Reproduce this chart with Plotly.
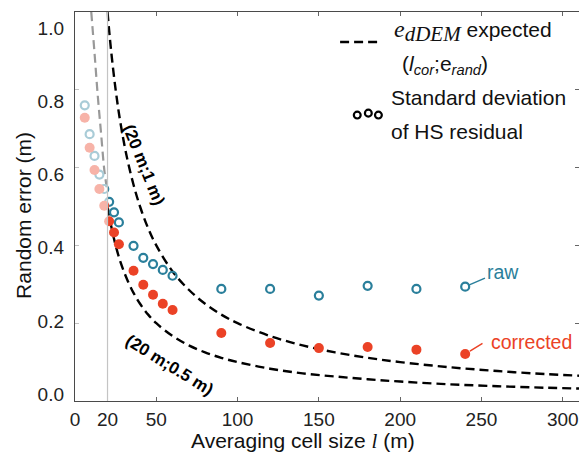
import plotly.graph_objects as go

# Averaging cell size l (m) and standard deviation of the HS residual (m)
cell_size = [6, 9, 12, 15, 18, 21, 24, 27, 36, 42, 48, 54, 60, 90, 120, 150, 180, 210, 240]
raw_sd = [0.760, 0.686, 0.630, 0.582, 0.545, 0.512, 0.485, 0.459, 0.399, 0.368, 0.352,
          0.337, 0.322, 0.288, 0.288, 0.271, 0.296, 0.288, 0.294]
corrected_sd = [0.728, 0.651, 0.594, 0.545, 0.502, 0.462, 0.433, 0.403, 0.335, 0.299, 0.273,
                0.250, 0.234, 0.175, 0.149, 0.136, 0.139, 0.132, 0.121]

# Expected e_dDEM curves for (l_cor; e_rand) = (20 m; 1 m) and (20 m; 0.5 m)
curve_l = [20, 22, 25, 28, 32, 36, 40, 45, 50, 60, 70, 80, 90, 100, 120, 140, 160,
           180, 200, 230, 260, 290, 310]
expected_1m = [1.0, 0.909, 0.80, 0.714, 0.625, 0.556, 0.50, 0.444, 0.40, 0.333, 0.286,
               0.25, 0.222, 0.20, 0.167, 0.143, 0.125, 0.111, 0.10, 0.087, 0.077, 0.069, 0.065]
expected_05m = [0.50, 0.455, 0.40, 0.357, 0.313, 0.278, 0.25, 0.222, 0.20, 0.167, 0.143,
                0.125, 0.111, 0.10, 0.083, 0.071, 0.063, 0.056, 0.05, 0.043, 0.038, 0.034, 0.032]
# Expected curve below the correlation length
short_l = [10, 12, 14, 16, 18, 19.5]
short_expected = [1.0, 0.895, 0.785, 0.69, 0.595, 0.55]

l_cor = 20
x_ticks = [0, 20, 50, 100, 150, 200, 250, 300]
y_ticks = [0.0, 0.2, 0.4, 0.6, 0.8, 1.0]
y_tick_text = ["0.0", "0.2", "0.4", "0.6", "0.8", "1.0"]

TEAL = "#2a7f9b"
RED = "#eb4226"
FONT = "Arial, Liberation Sans, sans-serif"
SERIF = "Liberation Serif, serif"
DASH = "9px,5px"

fig = go.Figure()

fig.add_trace(go.Scatter(x=short_l, y=short_expected, mode="lines", line_shape="spline",
                         line=dict(color="black", width=2.2, dash=DASH), hoverinfo="skip"))
fig.add_trace(go.Scatter(x=curve_l, y=expected_1m, mode="lines", line_shape="spline",
                         line=dict(color="black", width=2.4, dash=DASH), hoverinfo="skip"))
fig.add_trace(go.Scatter(x=curve_l, y=expected_05m, mode="lines", line_shape="spline",
                         line=dict(color="black", width=2.4, dash=DASH), hoverinfo="skip"))
fig.add_trace(go.Scatter(x=cell_size, y=raw_sd, mode="markers", name="raw",
                         marker=dict(symbol="circle-open", size=8, color=TEAL,
                                     line=dict(width=2.2))))
fig.add_trace(go.Scatter(x=cell_size, y=corrected_sd, mode="markers", name="corrected",
                         marker=dict(symbol="circle", size=10, color=RED)))
# carrier for the label axis
fig.add_trace(go.Scatter(x=[], y=[], yaxis="y2", showlegend=False, hoverinfo="skip"))

# fade everything below the correlation length
fig.add_shape(type="rect", xref="x", yref="y", x0=0, x1=l_cor, y0=0, y1=1,
              fillcolor="rgba(255,255,255,0.6)", line=dict(width=0), layer="above")
fig.add_shape(type="line", xref="x", yref="y", x0=l_cor, x1=l_cor, y0=0, y1=1,
              line=dict(color="#c4c4c4", width=1.2), layer="above")

# legend
fig.add_shape(type="line", xref="paper", yref="paper", x0=0.526, x1=0.609, y0=0.923, y1=0.923,
              line=dict(color="black", width=2.4, dash=DASH))
for cx, cy in [(0.560, 0.735), (0.582, 0.740), (0.602, 0.735)]:
    fig.add_shape(type="circle", xref="paper", yref="paper",
                  x0=cx - 0.0068, x1=cx + 0.0068, y0=cy - 0.0088, y1=cy + 0.0088,
                  line=dict(color="black", width=2.2))


def note(x, y, text, size=21, color="#111", **kw):
    d = dict(xref="paper", yref="paper", x=x, y=y, text=text, showarrow=False,
             xanchor="left", yanchor="middle", font=dict(size=size, color=color, family=FONT))
    d.update(kw)
    return d


ann = [
    note(0.628, 0.950,
         f"<span style=\"font-family:{SERIF}\"><span style=\"font-size:24px\"><i>e</i></span>"
         f"<sub><span style=\"font-size:21px\"><i>dDEM</i></span></sub></span> expected"),
    note(0.645, 0.864, "(<i>l</i><sub><i>cor</i></sub>;e<sub><i>rand</i></sub>)"),
    note(0.623, 0.779, "Standard deviation"),
    note(0.623, 0.692, "of HS residual"),
]

# curve labels
ann.append(dict(x=42, y=0.607, text="<b>(20 m;1 m)</b>", showarrow=False, textangle=68,
                xanchor="center", yanchor="middle",
                font=dict(size=17, color="black", family=FONT)))
ann.append(dict(x=58.4, y=0.0925, text="<b>(20 m;0.5 m)</b>", showarrow=False, textangle=31.7,
                xanchor="center", yanchor="middle",
                font=dict(size=17, color="black", family=FONT)))

# series labels with leader lines
ann.append(dict(x=cell_size[-1], y=raw_sd[-1], text="", showarrow=True, arrowhead=0,
                arrowwidth=1.5, arrowcolor=TEAL, ax=21.3, ay=-9.1, standoff=4.5))
ann.append(dict(x=cell_size[-1], y=raw_sd[-1], text="raw", showarrow=False,
                xanchor="center", yanchor="middle",
                xshift=38.3, yshift=14.9, font=dict(size=19.5, color=TEAL, family=FONT)))
ann.append(dict(x=cell_size[-1], y=corrected_sd[-1], text="", showarrow=True, arrowhead=0,
                arrowwidth=1.5, arrowcolor=RED, ax=18.8, ay=-11.4, standoff=5.5))
ann.append(dict(x=cell_size[-1], y=corrected_sd[-1], text="corrected", showarrow=False,
                xanchor="center", yanchor="middle",
                xshift=66.5, yshift=12.4, font=dict(size=19.5, color=RED, family=FONT)))

# axis titles
ann.append(note(0.452, -0.103,
                f"Averaging cell size <span style=\"font-family:{SERIF}\"><i>l</i></span> (m)",
                size=21, xanchor="center"))
ann.append(note(-0.1035, 0.478, "Random error (m)", size=21, xanchor="center", textangle=-90))

fig.update_layout(
    width=579, height=453,
    margin=dict(l=75, r=0, t=12, b=52),
    paper_bgcolor="white", plot_bgcolor="white",
    showlegend=False,
    font=dict(family=FONT, color="#222"),
    annotations=ann,
    xaxis=dict(range=[0, 310], tickvals=x_ticks, ticks="inside", ticklen=4, tickcolor="#666",
               showline=True, linecolor="#4a4a4a", linewidth=1.3, mirror="ticks",
               showgrid=False, zeroline=False, tickfont=dict(size=19, color="#222"),
               ticklabelstandoff=1),
    yaxis=dict(range=[0, 1.0], tickvals=y_ticks, ticks="inside", ticklen=4, tickcolor="#666",
               showline=True, linecolor="#4a4a4a", linewidth=1.3, mirror="ticks",
               showgrid=False, zeroline=False, showticklabels=False),
    yaxis2=dict(overlaying="y", anchor="x", side="left", range=[-0.0192, 1.0451],
                tickvals=y_ticks, ticktext=y_tick_text, ticks="", showline=False,
                showgrid=False, zeroline=False, tickfont=dict(size=19, color="#222"),
                ticklabelstandoff=10),
)

fig.write_html("out.html")
